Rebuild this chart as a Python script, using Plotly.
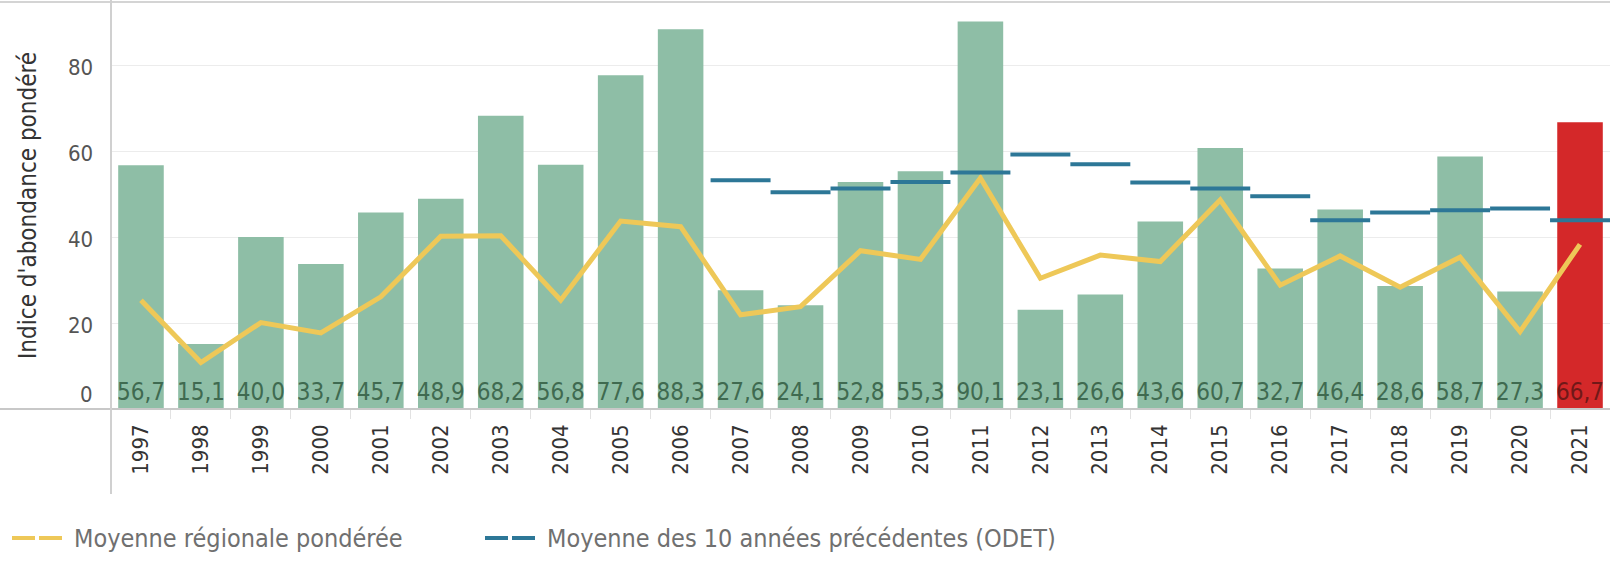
import plotly.graph_objects as go

years = [str(y) for y in range(1997, 2022)]
abundance = [56.7, 15.1, 40.0, 33.7, 45.7, 48.9, 68.2, 56.8, 77.6, 88.3, 27.6, 24.1, 52.8,
             55.3, 90.1, 23.1, 26.6, 43.6, 60.7, 32.7, 46.4, 28.6, 58.7, 27.3, 66.7]
regional_mean = [25.3, 10.8, 20.1, 17.7, 26.1, 40.2, 40.3, 25.3, 43.7, 42.4, 21.9, 23.8, 36.8,
                 34.8, 53.7, 30.4, 35.8, 34.3, 48.6, 28.8, 35.6, 28.3, 35.3, 18.0, 38.3]
odet_mean = [None] * 10 + [53.2, 50.4, 51.3, 52.8, 55.0, 59.2, 56.9, 52.7, 51.3, 49.5,
                           43.9, 45.7, 46.2, 46.6, 43.9]
y_ticks = [0, 20, 40, 60, 80]
y_title = "Indice d'abondance pondéré"
legend_labels = ["Moyenne régionale pondérée", "Moyenne des 10 années précédentes (ODET)"]

FONT = "DejaVu Sans Condensed, DejaVu Sans, sans-serif"
GREEN = "#8ebea6"
RED = "#d42829"
YELLOW = "#eec858"
BLUE = "#2d7797"

W, H = 1610, 562
ML, MR, MT, MB = 111, 0, 2, 153
PW = W - ML - MR
PH = H - MT - MB


def px_x(x):
    return (x - ML) / PW


def px_y(y):
    return (H - MB - y) / PH


idx = list(range(len(years)))
bar_colors = [RED if y == "2021" else GREEN for y in years]
label_colors = ["#701818" if y == "2021" else "#3f6a50" for y in years]
bar_text = [f"{v:.1f}".replace(".", ",") for v in abundance]

fig = go.Figure()
fig.add_trace(go.Bar(
    x=idx, y=abundance, width=0.76,
    marker=dict(color=bar_colors, line=dict(width=0)),
    text=bar_text, textposition="inside", insidetextanchor="start",
    textangle=0, constraintext="none",
    insidetextfont=dict(family=FONT, size=24, color=label_colors),
    showlegend=False, hoverinfo="x+y",
))
fig.add_trace(go.Scatter(
    x=idx, y=regional_mean, mode="lines",
    line=dict(color=YELLOW, width=5), showlegend=False,
))
ox, oy = [], []
for i, v in zip(idx, odet_mean):
    if v is None:
        continue
    ox += [i - 0.5, i + 0.5, None]
    oy += [v, v, None]
fig.add_trace(go.Scatter(
    x=ox, y=oy, mode="lines", line=dict(color=BLUE, width=4),
    showlegend=False, connectgaps=False,
))

annotations = []
for t in y_ticks:
    annotations.append(dict(
        x=px_x(95), xref="paper", y=t, yref="y", text=str(t), showarrow=False,
        xanchor="right", yanchor="bottom" if t == 0 else "middle",
        yshift=-2 if t != 0 else 0,
        font=dict(family=FONT, size=22, color="#555555"),
    ))
annotations.append(dict(
    x=px_x(27.5), xref="paper", y=0.5, yref="paper", text=y_title, showarrow=False,
    textangle=-90, xanchor="center", yanchor="middle",
    font=dict(family=FONT, size=24, color="#333333"),
))
leg_y = px_y(538)
annotations.append(dict(x=px_x(72), xref="paper", y=leg_y, yref="paper", text=legend_labels[0],
                        showarrow=False, xanchor="left", yanchor="middle",
                        font=dict(family=FONT, size=25, color="#707070")))
annotations.append(dict(x=px_x(545), xref="paper", y=leg_y, yref="paper", text=legend_labels[1],
                        showarrow=False, xanchor="left", yanchor="middle",
                        font=dict(family=FONT, size=25, color="#707070")))

shapes = [
    dict(type="line", xref="paper", yref="paper", x0=px_x(0), x1=1.0, y0=px_y(2), y1=px_y(2),
         line=dict(color="#d4d4d4", width=2), layer="above"),
    dict(type="line", xref="paper", yref="paper", x0=px_x(0), x1=1.0, y0=0, y1=0,
         line=dict(color="#c8c8c8", width=2), layer="above"),
    dict(type="line", xref="paper", yref="paper", x0=0, x1=0, y0=px_y(0), y1=px_y(494),
         line=dict(color="#d0d0d0", width=2), layer="above"),
    dict(type="line", xref="paper", yref="paper", x0=px_x(12), x1=px_x(62), y0=leg_y, y1=leg_y,
         line=dict(color=YELLOW, width=4, dash="23px,4px")),
    dict(type="line", xref="paper", yref="paper", x0=px_x(485), x1=px_x(535), y0=leg_y, y1=leg_y,
         line=dict(color=BLUE, width=4, dash="23px,4px")),
]

fig.update_layout(
    width=W, height=H,
    margin=dict(l=ML, r=MR, t=MT, b=MB, pad=0),
    paper_bgcolor="white", plot_bgcolor="white",
    font=dict(family=FONT, color="#333333"),
    bargap=0.24,
    xaxis=dict(
        range=[-0.5, len(years) - 0.5], tickvals=idx, ticktext=years, tickangle=-90,
        showgrid=False, zeroline=False, showline=False, ticks="",
        ticklabelstandoff=10,
        tickfont=dict(family=FONT, size=22, color="#333333"),
        minor=dict(tickvals=[i - 0.5 for i in idx] + [len(years) - 0.5], ticks="outside",
                   ticklen=9, tickcolor="#e2e2e2", tickwidth=1, showgrid=False),
        fixedrange=True,
    ),
    yaxis=dict(
        range=[0, (PH) / 4.3], tickvals=y_ticks, showticklabels=False,
        showgrid=True, gridcolor="#ececec", gridwidth=1,
        zeroline=False, showline=False, ticks="", fixedrange=True,
    ),
    shapes=shapes,
    annotations=annotations,
)

fig.write_html("out.html", config={"displayModeBar": False},
               post_script="document.body.style.margin='0';")
